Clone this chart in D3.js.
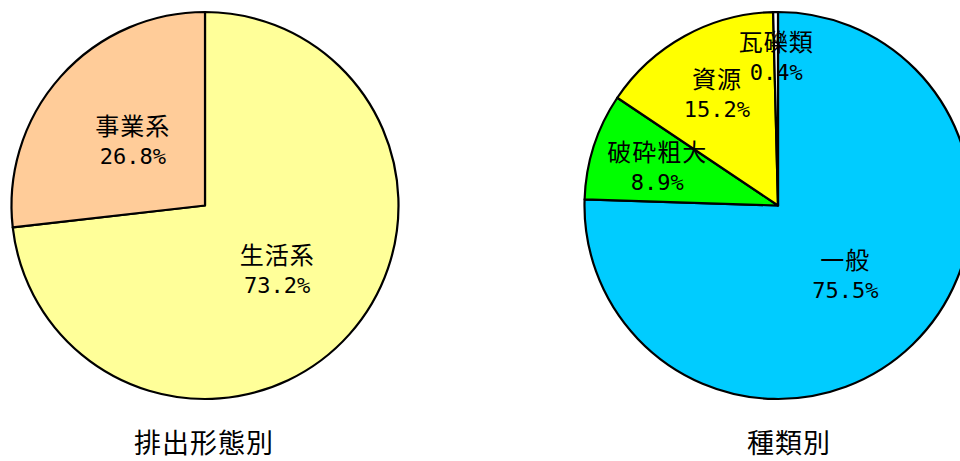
<!DOCTYPE html>
<html><head><meta charset="utf-8">
<script src="https://cdn.jsdelivr.net/npm/d3@7"></script>
<style>body{margin:0;background:#fff;} svg{display:block;}</style>
</head><body>
<svg id="c" width="960" height="461"></svg>
<script>
// Data
const leftTitle = "排出形態別";
const leftCategories = ["生活系", "事業系"];
const leftValues = [73.2, 26.8];
const leftColors = ["#FFFF99", "#FFCC99"];

const rightTitle = "種類別";
const rightCategories = ["一般", "破砕粗大", "資源", "瓦礫類"];
const rightValues = [75.5, 8.9, 15.2, 0.4];
const rightColors = ["#00CCFF", "#00FF00", "#FFFF00", "#FFFFFF"];

const svg = d3.select("#c");
const R = 193.5;

function labelFrac(f) {
  if (f < 0.01) return 0.77;
  if (f < 0.2) return 0.655;
  return 0.5;
}

function drawPie(cx, cy, cats, vals, cols, title, titleX) {
  const data = cats.map((c, i) => ({cat: c, v: vals[i], col: cols[i]}));
  const pie = d3.pie().value(d => d.v).sort(null);
  const arcs = pie(data);
  const total = d3.sum(vals);
  const arc = d3.arc().innerRadius(0).outerRadius(R);
  const g = svg.append("g").attr("transform", `translate(${cx},${cy})`);
  g.selectAll("path").data(arcs).join("path")
    .attr("d", arc)
    .attr("fill", d => d.data.col)
    .attr("stroke", "#000")
    .attr("stroke-width", 2.2)
    .attr("stroke-linejoin", "round");
  const lg = g.selectAll("g.lab").data(arcs).join("g").attr("class", "lab")
    .attr("transform", d => {
      const f = d.data.v / total;
      const lr = labelFrac(f) * R;
      const la = d3.arc().innerRadius(0).outerRadius(lr * 2);
      const [x, y] = la.centroid(d);
      return `translate(${x},${y})`;
    });
  lg.append("text")
    .attr("text-anchor", "middle")
    .attr("y", -6)
    .attr("font-family", "'Noto Sans CJK JP', sans-serif")
    .attr("font-size", 24)
    .attr("letter-spacing", 1)
    .attr("fill", "#000")
    .text(d => d.data.cat);
  lg.append("text")
    .attr("text-anchor", "middle")
    .attr("y", 23)
    .attr("font-family", "'DejaVu Sans Mono', monospace")
    .attr("font-size", 22)
    .attr("fill", "#000")
    .text(d => d3.format(".1f")(d.data.v) + "%");
  svg.append("text")
    .attr("x", titleX).attr("y", 453)
    .attr("text-anchor", "middle")
    .attr("font-family", "'Noto Sans CJK JP', sans-serif")
    .attr("font-size", 27)
    .attr("letter-spacing", 1)
    .attr("fill", "#000")
    .text(title);
}

drawPie(205, 205.5, leftCategories, leftValues, leftColors, leftTitle, 204);
drawPie(778, 205.5, rightCategories, rightValues, rightColors, rightTitle, 789);
</script>
</body></html>
